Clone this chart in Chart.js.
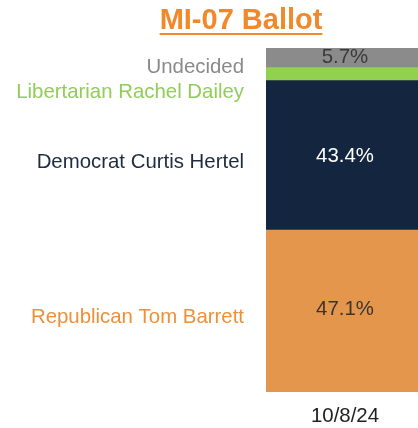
<!DOCTYPE html>
<html>
<head>
<meta charset="utf-8">
<script src="https://cdn.jsdelivr.net/npm/chart.js@4/dist/chart.umd.min.js"></script>
<style>
  html, body { margin: 0; padding: 0; background: #fff; overflow: hidden; width: 418px; height: 428px; }
  #wrap { position: absolute; left: 0; top: 0; width: 424px; height: 428px; }
  #title { position: absolute; left: 0; top: 5px; width: 482px; text-align: center;
    font: bold 29px "Liberation Sans", Arial, sans-serif; line-height: 29px; color: #F0892C;
    text-decoration: underline; text-decoration-thickness: 2px; text-underline-offset: 4px; z-index: 2; }
</style>
</head>
<body>
<div id="wrap"><canvas id="c"></canvas></div>
<div id="title">MI-07 Ballot</div>
<script>
const categories = ['10/8/24'];
const seriesNames = ['Republican Tom Barrett', 'Democrat Curtis Hertel', 'Libertarian Rachel Dailey', 'Undecided'];
const republican = [47.1];
const democrat = [43.4];
const libertarian = [3.8];
const undecided = [5.7];
const shownValue = [true, true, false, true];

const barColors = ['#E3964C', '#14263F', '#92D050', '#8C8B8C'];
const nameColors = ['#EF9039', '#1E2B40', '#92CD5A', '#8A8A8A'];
const valueColors = ['#3A342E', '#FFFFFF', '#333333', '#3A3A3A'];
const nameOffsets = [6, 7, 18, 10];
const valueOffsets = [-2, 1, 0, 0];

const FONT = '"Liberation Sans", Arial, sans-serif';

const labelPlugin = {
  id: 'segLabels',
  afterDatasetsDraw(chart) {
    const ctx = chart.ctx;
    const y = chart.scales.y;
    const x = chart.scales.x;
    const cx = x.getPixelForValue(0);
    let cum = 0;
    ctx.save();
    ctx.font = '20.4px ' + FONT;
    ctx.textBaseline = 'middle';
    chart.data.datasets.forEach((ds, i) => {
      const v = ds.data[0];
      const mid = cum + v / 2;
      cum += v;
      const py = y.getPixelForValue(mid);
      if (shownValue[i]) {
        ctx.fillStyle = valueColors[i];
        ctx.textAlign = 'center';
        ctx.fillText(v.toFixed(1) + '%', cx, py + valueOffsets[i]);
      }
      ctx.fillStyle = nameColors[i];
      ctx.textAlign = 'right';
      ctx.fillText(ds.label, chart.chartArea.left - 22, py + nameOffsets[i]);
    });
    // category label
    ctx.fillStyle = '#222222';
    ctx.textAlign = 'center';
    chart.data.labels.forEach((lab, j) => {
      ctx.fillText(lab, x.getPixelForValue(j), chart.chartArea.bottom + 24);
    });
    ctx.restore();
  }
};

new Chart(document.getElementById('c'), {
  type: 'bar',
  data: {
    labels: categories,
    datasets: [
      { label: seriesNames[0], data: republican, backgroundColor: barColors[0] },
      { label: seriesNames[1], data: democrat, backgroundColor: barColors[1] },
      { label: seriesNames[2], data: libertarian, backgroundColor: barColors[2] },
      { label: seriesNames[3], data: undecided, backgroundColor: barColors[3] }
    ]
  },
  options: {
    responsive: true,
    maintainAspectRatio: false,
    animation: false,
    layout: { padding: { left: 266, top: 48, right: 0, bottom: 36 } },
    datasets: { bar: { barPercentage: 1, categoryPercentage: 1, borderWidth: 0 } },
    plugins: { legend: { display: false }, tooltip: { enabled: false }, title: { display: false } },
    scales: {
      x: { stacked: true, display: false },
      y: { stacked: true, display: false, min: 0, max: 100 }
    }
  },
  plugins: [labelPlugin]
});
</script>
</body>
</html>
